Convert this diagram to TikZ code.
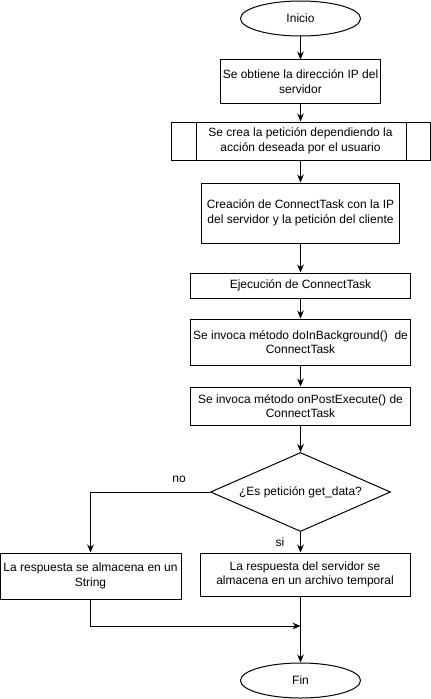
\documentclass[tikz,border=0pt]{standalone}
\usepackage{fontspec}
\setmainfont{Liberation Sans}
\usetikzlibrary{shapes.geometric}
\usetikzlibrary{arrows.meta}
\newcommand{\txt}{\fontsize{9}{11}\selectfont}

\tikzset{
    paso/.style={draw, rectangle, line width=0.75pt, inner sep=0pt, align=center, font=\txt},
    limite/.style={draw, ellipse, line width=0.75pt, minimum width=90pt, minimum height=26.25pt, inner sep=0pt, font=\txt},
    decision/.style={draw, diamond, line width=0.75pt, minimum width=135pt, minimum height=59.25pt, inner sep=0pt, aspect=2.28, font=\txt},
    flecha/.style={line width=0.75pt, -{Stealth[length=6pt,width=5pt]}},
    etiqueta/.style={font=\txt}
}

\begin{document}
\begin{tikzpicture}[x=0.75pt,y=-0.75pt]
            \useasboundingbox (0,0) rectangle (431,699);

            % Inicio y primeros pasos
            \node[limite] (ini) at (300.5,18.5) {Inicio};
            \node[paso, minimum width=119.5pt, minimum height=32.25pt] (ip) at (300.5,81.5)
                {Se obtiene la dirección IP del\\servidor};
            \node[paso, minimum width=194.25pt, minimum height=28.5pt] (pet) at (300.5,141)
                {Se crea la petición dependiendo la\\acción deseada por el usuario};
            \draw[line width=0.75pt] ([xshift=19.5pt]pet.north west) -- ([xshift=19.5pt]pet.south west);
            \draw[line width=0.75pt] ([xshift=-18pt]pet.north east) -- ([xshift=-18pt]pet.south east);

            % ConnectTask
            \node[paso, minimum width=148pt, minimum height=45pt] (crea) at (300.5,213)
                {Creación de ConnectTask con la IP\\del servidor y la petición del cliente};
            \node[paso, minimum width=165pt, minimum height=18.75pt] (ejec) at (300.5,285.5)
                {Ejecución de ConnectTask};
            \node[paso, minimum width=165pt, minimum height=34.5pt] (bg) at (300.5,342)
                {Se invoca método doInBackground()\ \ de\\ConnectTask};
            \node[paso, minimum width=165pt, minimum height=28.5pt] (post) at (300.5,406)
                {Se invoca método onPostExecute() de\\ConnectTask};

            % Decision
            \node[decision] (dec) at (300.5,492) {¿Es petición get\_data?};
            \node[paso, minimum width=135.75pt, minimum height=34.5pt] (str) at (90.5,576)
                {La respuesta se almacena en un\\String};
            \node[paso, minimum width=157.5pt, minimum height=32.25pt] (tmp) at (305,574.5)
                {La respuesta del servidor se\\almacena en un archivo temporal};

            \node[limite] (fin) at (300.5,680.5) {Fin};
            \coordinate (union) at (300.5,626);

            % Conectores
            \draw[flecha] (ini) -- (ip);
            \draw[flecha] (ip) -- (pet);
            \draw[flecha] (pet) -- (crea);
            \draw[flecha] (crea) -- (ejec);
            \draw[flecha] (ejec) -- (bg);
            \draw[flecha] (bg) -- (post);
            \draw[flecha] (post) -- (dec);
            \draw[flecha] (dec.west) -| (str.north);
            \draw[flecha] (dec.south) -- (dec.south |- tmp.north);
            \draw[line width=0.75pt] (dec.south |- tmp.south) -- (union);
            \draw[flecha] (union) -- (fin.north);
            \draw[flecha] (str.south) |- (union);

            % Etiquetas
            \node[etiqueta] (no) at (179,479) {no};
            \node[etiqueta] (si) at (280,542) {si};
        \end{tikzpicture}
\end{document}
